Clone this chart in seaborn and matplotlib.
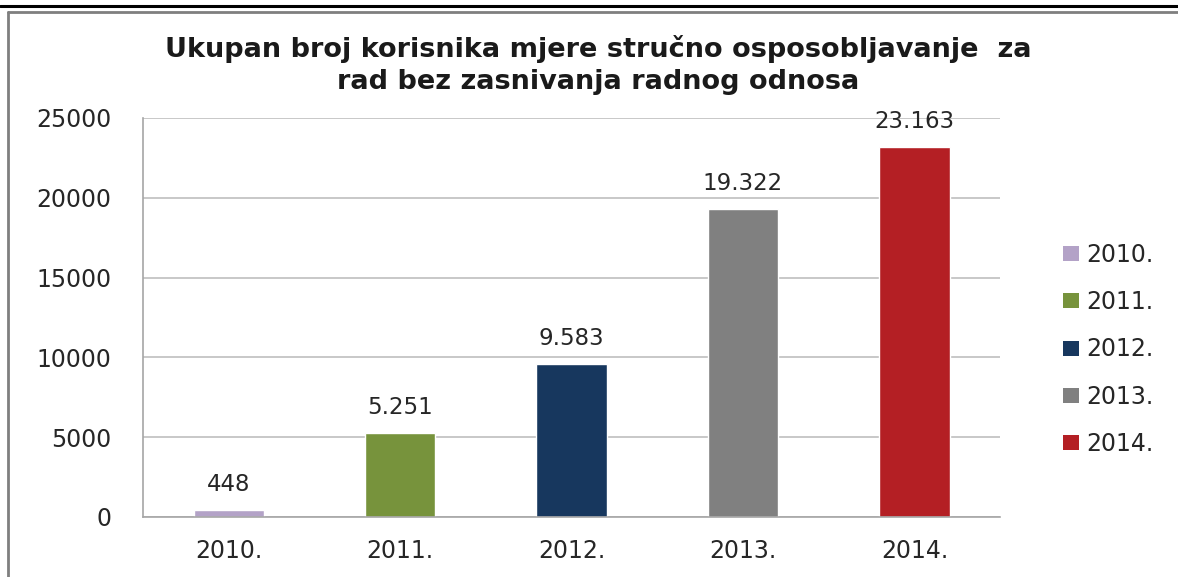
import numpy as np
import pandas as pd
import seaborn as sns
import matplotlib.pyplot as plt
from matplotlib.lines import Line2D
from matplotlib.patches import Patch

# %% Data
lst_years = ['2010.', '2011.', '2012.', '2013.', '2014.']
lst_values = [448, 5251, 9583, 19322, 23163]
lst_colors = ['#b3a2c7', '#77933c', '#17375e', '#808080', '#b41f24']
str_title = ('Ukupan broj korisnika mjere stručno osposobljavanje  za\n'
             'rad bez zasnivanja radnog odnosa')

df = pd.DataFrame({'year': lst_years, 'value': lst_values})

# %% Plot
sns.set_style('white')
plt.rcParams['font.family'] = ['DejaVu Sans']

fig = plt.figure(figsize=(11.78, 5.77), dpi=100)
ax = fig.add_axes([0.1214, 0.104, 0.7276, 0.6915])

sns.barplot(data=df, x='year', y='value', hue='year', palette=lst_colors,
            dodge=False, width=0.41, saturation=1, legend=False, ax=ax)

ax.set_ylim(0, 25000)
ax.set_xlim(-0.5, 4.5)
ax.set_yticks(np.arange(0, 25001, 5000))
ax.yaxis.grid(True, color='#bfbfbf', linewidth=1.2)
ax.set_axisbelow(True)
ax.set_xlabel('')
ax.set_ylabel('')
sns.despine(ax=ax, top=True, right=True)
for side in ['left', 'bottom']:
    ax.spines[side].set_color('#a6a6a6')
    ax.spines[side].set_linewidth(1.2)

# ticks: y outward, x marks at category boundaries
ax.tick_params(axis='y', length=11, width=1.2, color='#a6a6a6',
               labelsize=17, pad=12, labelcolor='#262626')
ax.set_xticks(np.arange(-0.5, 5, 1), minor=True)
ax.tick_params(axis='x', which='major', length=0, labelsize=17, pad=16,
               labelcolor='#262626')
ax.tick_params(axis='x', which='minor', length=9, width=1.2,
               color='#a6a6a6', direction='out')

# value labels
for ind, val in enumerate(lst_values):
    str_lbl = f'{val:,}'.replace(',', '.')
    ax.annotate(str_lbl, (ind, val), xytext=(0, 10), textcoords='offset points',
                ha='center', va='bottom', fontsize=16.5, color='#262626')

# title
fig.text(0.508, 0.888, str_title, ha='center', va='center', fontsize=19.5,
         fontweight='bold', color='#1a1a1a', linespacing=1.3)

# legend
lst_handles = [Patch(facecolor=c, edgecolor='none') for c in lst_colors]
ax.legend(lst_handles, lst_years, loc='center left',
          bbox_to_anchor=(1.048, 0.42), frameon=False, fontsize=17,
          handlelength=0.7, handleheight=0.6, labelspacing=0.98,
          handletextpad=0.3, labelcolor='#262626')

# outer frame lines
fig.add_artist(Line2D([0, 1], [0.989, 0.989], color='black', linewidth=2.2,
                      transform=fig.transFigure))
fig.add_artist(Line2D([0.007, 1], [0.979, 0.979], color='#7f7f7f',
                      linewidth=2, transform=fig.transFigure))
fig.add_artist(Line2D([0.007, 0.007], [0, 0.979], color='#7f7f7f',
                      linewidth=2, transform=fig.transFigure))

fig.savefig('out.png', dpi=100)
